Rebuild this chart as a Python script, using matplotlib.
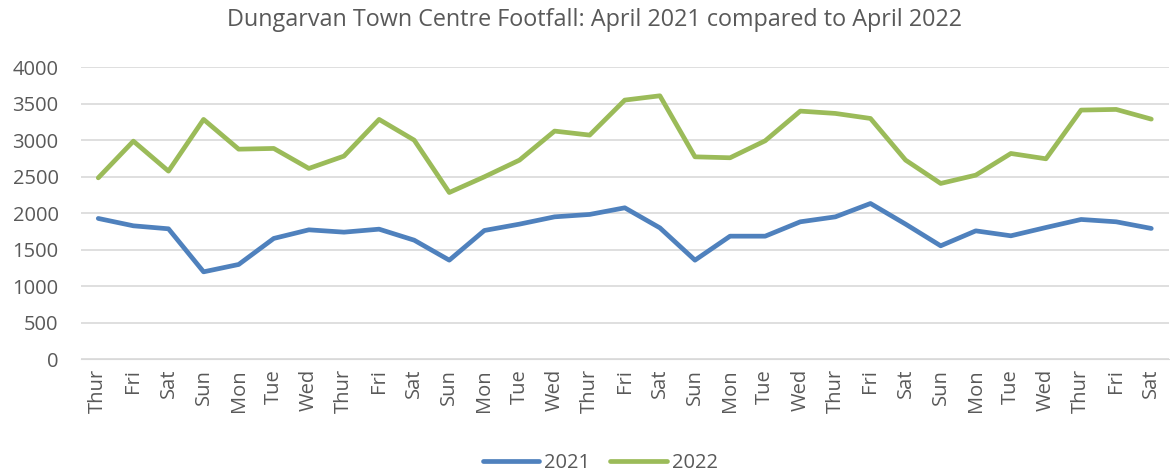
import numpy as np
import matplotlib.pyplot as plt

plt.rcParams.update({
    "font.family": ["Open Sans", "DejaVu Sans"],
    "text.color": "#595959",
    "xtick.color": "#595959",
    "ytick.color": "#595959",
})

days = ["Thur", "Fri", "Sat", "Sun", "Mon", "Tue", "Wed",
        "Thur", "Fri", "Sat", "Sun", "Mon", "Tue", "Wed",
        "Thur", "Fri", "Sat", "Sun", "Mon", "Tue", "Wed",
        "Thur", "Fri", "Sat", "Sun", "Mon", "Tue", "Wed",
        "Thur", "Fri", "Sat"]

footfall_2021 = [1930, 1829, 1788, 1198, 1299, 1656, 1774,
                 1742, 1783, 1632, 1358, 1765, 1852, 1952,
                 1985, 2076, 1801, 1358, 1687, 1687, 1884,
                 1952, 2135, 1852, 1555, 1760, 1692, 1806,
                 1916, 1884, 1793]

footfall_2022 = [2487, 2990, 2579, 3288, 2880, 2890, 2616,
                 2785, 3288, 3004, 2286, 2501, 2730, 3128,
                 3073, 3553, 3612, 2775, 2762, 2995, 3402,
                 3370, 3301, 2730, 2410, 2524, 2821, 2748,
                 3416, 3425, 3292]

x = np.arange(len(days))

fig = plt.figure(figsize=(11.7, 4.72), dpi=100)
ax = fig.add_axes([0.069, 0.239, 0.93, 0.618])

ax.plot(x, footfall_2021, color="#4F81BD", lw=3.4, solid_capstyle="round", label="2021")
ax.plot(x, footfall_2022, color="#9BBB59", lw=3.4, solid_capstyle="round", label="2022")

ax.set_xlim(-0.5, len(days) - 0.5)
ax.set_ylim(0, 4000)
ax.set_yticks(np.arange(0, 4001, 500))
ax.set_xticks(x)
ax.set_xticklabels(days, rotation=90, fontsize=14.5)
ax.tick_params(axis="y", labelsize=14.5, length=0, pad=16)
ax.tick_params(axis="x", length=0, pad=7)

ax.grid(axis="y", color="#D9D9D9", lw=1.2)
ax.set_axisbelow(True)
for s in ["top", "right", "left"]:
    ax.spines[s].set_visible(False)
ax.spines["bottom"].set_color("#D9D9D9")

fig.suptitle("Dungarvan Town Centre Footfall: April 2021 compared to April 2022",
             x=0.508, y=0.982, fontsize=16.8, color="#595959")

fig.legend(loc="lower center", bbox_to_anchor=(0.513, -0.04), ncol=2, frameon=False,
           fontsize=14.5, handlelength=2.8, columnspacing=1.0, handletextpad=0.25)

fig.savefig("out.png", dpi=100)
